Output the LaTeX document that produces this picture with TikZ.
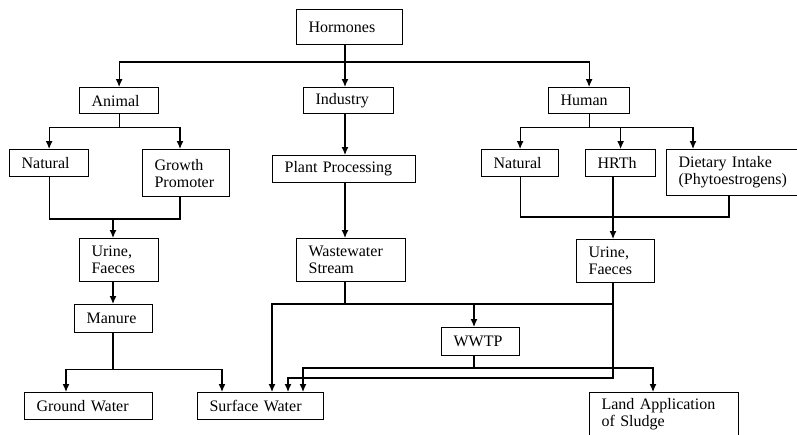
\documentclass[tikz,border=0pt]{standalone}
\usepackage{fontspec}
\setmainfont{Liberation Serif}
\usetikzlibrary{arrows.meta}

\tikzset{
	box/.style={draw, line width=1.2pt, anchor=north west, align=left, inner xsep=12pt, inner ysep=0pt},
	>={Latex[length=8pt,width=7pt]}
}

\begin{document}
\begin{tikzpicture}[x=1pt,y=-1pt,line width=1.2pt,font=\fontsize{16}{17}\selectfont]
	\clip (0,0) rectangle (797,434);
	% boxes
	\node[box, text width=82pt, minimum height=35pt] (hormones) at (296,9) {Hormones};
	\node[box, text width=55pt, minimum height=26pt] (animal) at (79,87) {Animal};
	\node[box, text width=66pt, minimum height=26pt] (industry) at (303,87) {Industry};
	\node[box, text width=57pt, minimum height=26pt] (human) at (548,87) {Human};
	\node[box, text width=55pt, minimum height=27pt] (natA) at (9,149) {Natural};
	\node[box, text width=63pt, minimum height=47pt] (growth) at (142,149) {Growth\\Promoter};
	\node[box, text width=119pt, minimum height=27pt] (plant) at (272,155) {Plant Processing};
	\node[box, text width=53pt, minimum height=27pt] (natH) at (481,149) {Natural};
	\node[box, text width=46pt, minimum height=27pt] (hrth) at (585,149) {HRTh};
	\node[box, text width=110pt, minimum height=46pt] (dietary) at (666,149) {Dietary Intake\\(Phytoestrogens)};
	\node[box, text width=55pt, minimum height=43pt] (urineA) at (79,238) {Urine,\\Faeces};
	\node[box, text width=85pt, minimum height=43pt] (waste) at (296,238) {Wastewater\\Stream};
	\node[box, text width=54pt, minimum height=43pt] (urineH) at (576,239) {Urine,\\Faeces};
	\node[box, text width=54pt, minimum height=28pt] (manure) at (74,304) {Manure};
	\node[box, text width=54pt, minimum height=28pt] (wwtp) at (441,327) {WWTP};
	\node[box, text width=104pt, minimum height=27pt] (ground) at (24,392) {Ground Water};
	\node[box, text width=102pt, minimum height=27pt] (surface) at (197,392) {Surface Water};
	\node[box, text width=125pt, minimum height=44pt] (land) at (589,392) {Land Application\\of Sludge};

	% junctions
	\coordinate (top) at (345,62);
	\coordinate (jA) at (113,219);
	\coordinate (jH) at (613,217);
	\coordinate (wb) at (345,304);
	\coordinate (wt) at (474,368);

	% hormones
	\draw (top |- hormones.south) -- (top);
	\draw[->] (top) -| (animal.north);
	\draw[->] (top) -| (human.north);
	\draw[->] (top) -- (top |- industry.north);

	% animal
	\draw (animal.south) -- ++(0,13) coordinate (ab);
	\draw[->] (ab) -| (natA.north);
	\draw[->] (ab) -| ([xshift=38pt]growth.north west);
	\draw (natA.south) |- (jA) -| ([xshift=38pt]growth.south west);
	\draw[->] (jA) -- (jA |- urineA.north);
	\draw[->] (jA |- urineA.south) -- (jA |- manure.north);
	\draw (jA |- manure.south) -- ++(0,36) coordinate (mb);
	\draw[->] (mb) -| ([xshift=42pt]ground.north west);
	\draw[->] (mb) -| ([xshift=25pt]surface.north west);

	% industry
	\draw[->] (top |- industry.south) -- (top |- plant.north);
	\draw[->] (top |- plant.south) -- (top |- waste.north);
	\draw (top |- waste.south) -- (wb);
	\draw[->] (jH |- wb) -| ([xshift=75pt]surface.north west);
	\draw[->] (wt |- wb) -- ([xshift=33pt]wwtp.north west);

	% human
	\draw (human.south) -- ++(0,13) coordinate (hb);
	\draw[->] (hb) -| (natH.north);
	\draw[->] (hb) -| (hrth.north);
	\draw[->] (hb) -| ([xshift=27pt]dietary.north west);
	\draw (natH.south) |- (jH) -| ([xshift=63pt]dietary.south west);
	\draw[->] (jH |- hrth.south) -- (jH |- urineH.north);
	\draw[->] (jH |- urineH.south) -- (613,378) -| ([xshift=91pt]surface.north west);

	% wwtp
	\draw (wt |- wwtp.south) -- (wt);
	\draw[->] (wt) -| ([xshift=106pt]surface.north west);
	\draw[->] (wt) -| ([xshift=64pt]land.north west);
\end{tikzpicture}
\end{document}
